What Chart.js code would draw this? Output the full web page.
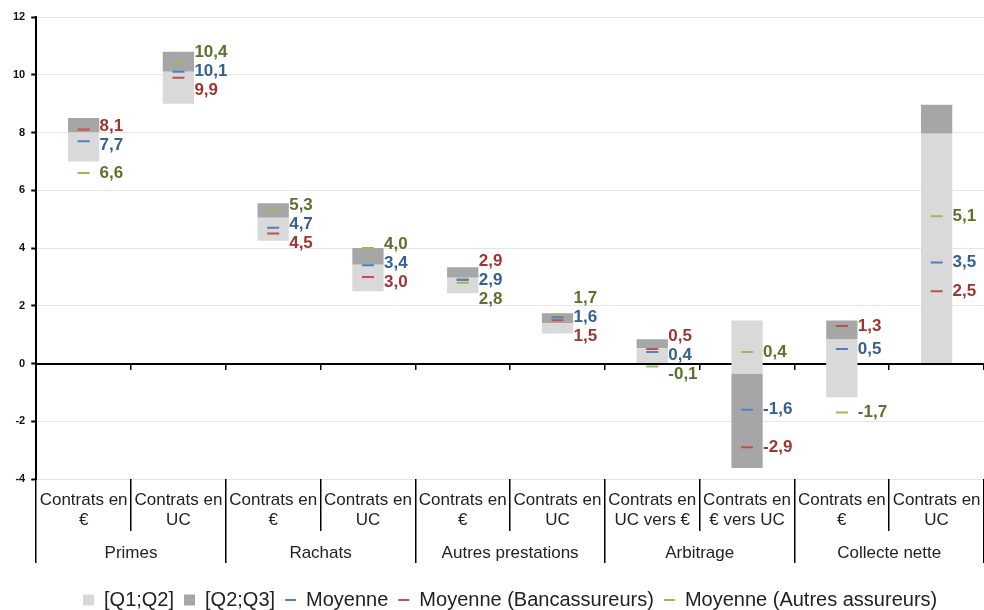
<!DOCTYPE html>
<html>
<head>
<meta charset="utf-8">
<script src="https://cdn.jsdelivr.net/npm/chart.js@4.4.1/dist/chart.umd.min.js"></script>
<style>
  html, body { margin: 0; padding: 0; background: #fff; }
</style>
</head>
<body>
<canvas id="chart" width="984" height="610"></canvas>
<script>
// catégories (2 niveaux)
const categories = [
  ['Contrats en', '€'], ['Contrats en', 'UC'],
  ['Contrats en', '€'], ['Contrats en', 'UC'],
  ['Contrats en', '€'], ['Contrats en', 'UC'],
  ['Contrats en', 'UC vers €'], ['Contrats en', '€ vers UC'],
  ['Contrats en', '€'], ['Contrats en', 'UC']
];
const groups = ['Primes', 'Rachats', 'Autres prestations', 'Arbitrage', 'Collecte nette'];

// [Q1;Q2] (gris clair)
const lightLow  = [7.0, 9.0, 4.25, 2.5, 2.43, 1.04, 0.0, -0.35, -1.17, 0.0];
const lightHigh = [8.0, 10.1, 5.05, 3.42, 2.97, 1.39, 0.53, 1.49, 0.83, 7.96];
// [Q2;Q3] (gris foncé)
const darkLow  = [8.0, 10.1, 5.05, 3.42, 2.97, 1.39, 0.53, -3.62, 0.83, 7.96];
const darkHigh = [8.5, 10.8, 5.55, 4.0, 3.33, 1.74, 0.84, -0.35, 1.49, 8.96];

// moyennes
const meanAll   = [7.7, 10.1, 4.7, 3.4, 2.9, 1.6, 0.4, -1.6, 0.5, 3.5];
const meanBanc  = [8.1, 9.9, 4.5, 3.0, 2.9, 1.5, 0.5, -2.9, 1.3, 2.5];
const meanAutre = [6.6, 10.4, 5.3, 4.0, 2.8, 1.7, -0.1, 0.4, -1.7, 5.1];

// axe Y
const yMin = -4, yMax = 12, yStep = 2;

const FONT = "'Liberation Sans', Arial, sans-serif";

const pairs = (lo, hi) => lo.map((v, i) => [v, hi[i]]);

// étiquettes des moyennes, écartées pour ne pas se chevaucher
const meanLabels = {
  id: 'meanLabels',
  afterDatasetsDraw(chart) {
    const ctx = chart.ctx;
    const sets = [
      { idx: 3, color: '#9C3533' },  // bancassureurs
      { idx: 2, color: '#376092' },  // moyenne
      { idx: 4, color: '#5B712D' }   // autres
    ];
    const gap = 19;
    ctx.save();
    ctx.font = 'bold 17px ' + FONT;
    ctx.textAlign = 'left';
    ctx.textBaseline = 'middle';
    for (let c = 0; c < categories.length; c++) {
      let items = sets.map(s => {
        const pt = chart.getDatasetMeta(s.idx).data[c];
        const v = chart.data.datasets[s.idx].data[c];
        return { v, x: pt.x, y: pt.y, color: s.color };
      });
      items.sort((a, b) => b.v - a.v);
      for (let k = 0; k < 30; k++) {
        for (let i = 1; i < items.length; i++) {
          const d = gap - (items[i].y - items[i - 1].y);
          if (d > 0) { items[i - 1].y -= d / 2; items[i].y += d / 2; }
        }
      }
      items.forEach(it => {
        ctx.fillStyle = it.color;
        ctx.fillText(it.v.toFixed(1).replace('.', ','), it.x + 16, it.y);
      });
    }
    ctx.restore();
  }
};

const lineSet = (label, data, color) => ({
  type: 'line',
  label: label,
  data: data,
  showLine: false,
  pointStyle: 'line',
  pointRadius: 6,
  pointHoverRadius: 6,
  pointBorderWidth: 2,
  borderWidth: 2,
  borderColor: color,
  pointBorderColor: color,
  backgroundColor: color
});

// titre vide : sert seulement à réserver de la hauteur sous les étiquettes
const spacer = (h) => ({ display: true, text: ' ', font: { size: 10, lineHeight: 1.2 }, padding: { top: 0, bottom: h - 12 } });

new Chart(document.getElementById('chart'), {
  type: 'bar',
  data: {
    labels: categories,
    datasets: [
      { label: '[Q1;Q2]', data: pairs(lightLow, lightHigh), backgroundColor: '#D9D9D9', pointStyle: 'rect', order: 5 },
      { label: '[Q2;Q3]', data: pairs(darkLow, darkHigh), backgroundColor: '#A6A6A6', pointStyle: 'rect', order: 5 },
      lineSet('Moyenne', meanAll, '#4F81BD'),
      lineSet('Moyenne (Bancassureurs)', meanBanc, '#C0504D'),
      lineSet('Moyenne (Autres assureurs)', meanAutre, '#9BBB59')
    ]
  },
  options: {
    responsive: false,
    animation: false,
    datasets: {
      bar: { grouped: false, categoryPercentage: 1, barPercentage: 0.33, borderWidth: 0 }
    },
    layout: { autoPadding: false, padding: { top: 17, left: 7, right: -2, bottom: -10 } },
    plugins: {
      tooltip: { enabled: false },
      legend: {
        position: 'bottom',
        fullSize: false,
        labels: {
          usePointStyle: true,
          boxHeight: 11,
          pointStyleWidth: 11,
          padding: 10,
          color: '#222',
          font: { family: FONT, size: 20, lineHeight: 1.0 },
          sort: (a, b) => a.datasetIndex - b.datasetIndex
        }
      }
    },
    scales: {
      y: {
        min: yMin,
        max: yMax,
        ticks: {
          stepSize: yStep,
          color: '#111',
          padding: 6,
          font: { family: FONT, size: 11, weight: 'bold' }
        },
        grid: { color: '#E6E6E6', tickColor: '#000', tickLength: 5, tickWidth: 2 },
        border: { color: '#000', width: 2 }
      },
      x: {
        offset: true,
        weight: 0,
        grid: { offset: true, drawOnChartArea: false, color: '#000', tickLength: 52, lineWidth: 1.5 },
        border: { display: false },
        title: spacer(41.2),
        ticks: {
          color: '#222',
          padding: -41,
          maxRotation: 0,
          autoSkip: false,
          font: { family: FONT, size: 17, lineHeight: 1.2 }
        }
      },
      x2: {
        type: 'category',
        axis: 'x',
        labels: groups,
        position: 'bottom',
        offset: true,
        weight: 1,
        grid: { offset: true, drawOnChartArea: false, color: '#000', tickLength: 32, lineWidth: 1.5 },
        border: { display: false },
        title: spacer(37),
        ticks: {
          color: '#222',
          padding: -20.2,
          maxRotation: 0,
          autoSkip: false,
          font: { family: FONT, size: 17, lineHeight: 1.2 }
        }
      },
      zero: {
        type: 'category',
        axis: 'x',
        labels: categories,
        position: { y: 0 },
        offset: true,
        grid: { offset: true, drawOnChartArea: false, color: '#000', tickLength: 5, lineWidth: 1.5 },
        border: { color: '#000', width: 2 },
        ticks: { display: false }
      }
    }
  },
  plugins: [meanLabels]
});
</script>
</body>
</html>
